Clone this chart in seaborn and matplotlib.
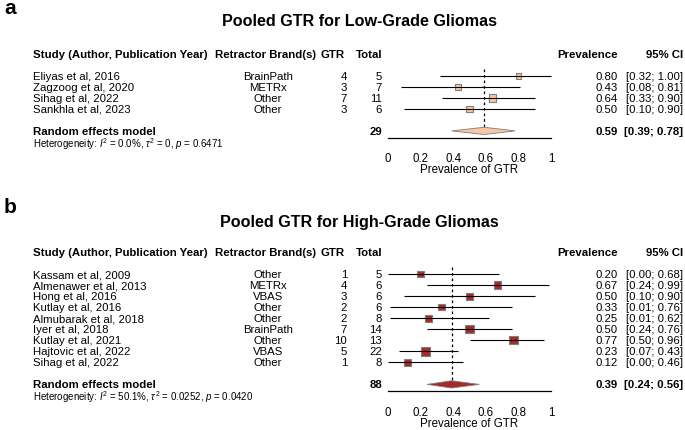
import numpy as np
import pandas as pd
import seaborn as sns
import matplotlib.pyplot as plt
from matplotlib.transforms import blended_transform_factory

# panel a - low grade gliomas
low_studies = ["Eliyas et al, 2016", "Zagzoog et al, 2020", "Sihag et al, 2022", "Sankhla et al, 2023"]
low_brands = ["BrainPath", "METRx", "Other", "Other"]
low_gtr = [4, 3, 7, 3]
low_total = [5, 7, 11, 6]
low_prev = [0.80, 0.43, 0.64, 0.50]
low_lo = [0.32, 0.08, 0.33, 0.10]
low_hi = [1.00, 0.81, 0.90, 0.90]
low_weight = [18, 23, 34, 25]
low_pooled = [0.59, 0.39, 0.78]
low_n = 29
low_het = r"Heterogeneity: $\mathit{I}^2$ = 0.0%, $\tau^2$ = 0, $\mathit{p}$ = 0.6471"

# panel b - high grade gliomas
high_studies = ["Kassam et al, 2009", "Almenawer et al, 2013", "Hong et al, 2016", "Kutlay et al, 2016",
                "Almubarak et al, 2018", "Iyer et al, 2018", "Kutlay et al, 2021", "Hajtovic et al, 2022",
                "Sihag et al, 2022"]
high_brands = ["Other", "METRx", "VBAS", "Other", "Other", "BrainPath", "Other", "VBAS", "Other"]
high_gtr = [1, 4, 3, 2, 2, 7, 10, 5, 1]
high_total = [5, 6, 6, 6, 8, 14, 13, 22, 8]
high_prev = [0.20, 0.67, 0.50, 0.33, 0.25, 0.50, 0.77, 0.23, 0.12]
high_lo = [0.00, 0.24, 0.10, 0.01, 0.01, 0.24, 0.50, 0.07, 0.00]
high_hi = [0.68, 0.99, 0.90, 0.76, 0.62, 0.76, 0.96, 0.43, 0.46]
high_weight = [8.2, 10.3, 10.3, 9.1, 9.1, 14.6, 13.5, 15.8, 9.1]
high_pooled = [0.39, 0.24, 0.56]
high_n = 88
high_het = r"Heterogeneity: $\mathit{I}^2$ = 50.1%, $\tau^2$ = 0.0252, $\mathit{p}$ = 0.0420"

tick_vals = [0, 0.2, 0.4, 0.6, 0.8, 1]
tick_labels = ["0", "0.2", "0.4", "0.6", "0.8", "1"]

W, H = 685, 431
FS = 8.2


def fx(px):
    return px / W


def fy(py):
    return 1 - py / H


def draw_panel(fig, letter, title, letter_y, title_y, ax_top, ax_bot, studies, brands, gtr, total, prev, lo, hi,
               weight, pooled, n, het, color, size_range):
    k = len(studies)
    ax = fig.add_axes([fx(388), fy(ax_bot), fx(551) - fx(388), (ax_bot - ax_top) / H])
    ax.set_xlim(0, 1)
    ax.set_ylim(k + 1.6, -0.6)

    df = pd.DataFrame({"row": np.arange(k), "prev": prev, "lo": lo, "hi": hi, "weight": weight})
    sns.scatterplot(data=df, x="prev", y="row", size="weight", sizes=size_range, marker="s", color=color,
                    edgecolor="#7f7f7f", linewidth=0.8, legend=False, ax=ax, zorder=2, clip_on=False)
    ax.hlines(df["row"], df["lo"], df["hi"], color="black", lw=0.8, zorder=3, clip_on=False)

    est, plo, phi = pooled
    ys = k + 1
    h = 0.33
    ax.fill([plo, est, phi, est], [ys, ys - h, ys, ys + h], facecolor=color, edgecolor="#7f7f7f",
            lw=0.6, zorder=2, clip_on=False)
    ax.vlines(est, -0.6, ys - h, color="black", lw=0.9, linestyles=(0, (2.2, 2.2)), zorder=1)

    sns.despine(ax=ax, left=True)
    ax.spines["bottom"].set_bounds(0, 1)
    ax.spines["bottom"].set_linewidth(0.9)
    ax.set_yticks([])
    ax.set_xticks(tick_vals)
    ax.set_xticklabels(tick_labels)
    ax.tick_params(axis="x", length=4, width=0.9, pad=6.5, labelsize=8.3, colors="black")
    ax.set_xlabel("Prevalence of GTR", fontsize=8.3, labelpad=-0.5, color="black")
    ax.set_ylabel("")
    ax.patch.set_alpha(0)

    tr = blended_transform_factory(fig.transFigure, ax.transData)
    hdr = dict(fontsize=FS, fontweight="bold", va="center", transform=tr)
    ax.text(fx(33), -2, "Study (Author, Publication Year)", ha="left", **hdr)
    ax.text(fx(266), -2, "Retractor Brand(s)", ha="center", **hdr)
    ax.text(fx(345), -2, "GTR", ha="right", **hdr)
    ax.text(fx(382), -2, "Total", ha="right", **hdr)
    ax.text(fx(618), -2, "Prevalence", ha="right", **hdr)
    ax.text(fx(683), -2, "95% CI", ha="right", **hdr)

    body = dict(fontsize=FS, va="center", transform=tr)
    for i in range(k):
        ax.text(fx(33), i, studies[i], ha="left", **body)
        ax.text(fx(268), i, brands[i], ha="center", **body)
        ax.text(fx(347), i, str(gtr[i]), ha="right", **body)
        ax.text(fx(382), i, str(total[i]), ha="right", **body)
        ax.text(fx(618), i, f"{prev[i]:.2f}", ha="right", **body)
        ax.text(fx(683), i, f"[{lo[i]:.2f}; {hi[i]:.2f}]", ha="right", **body)

    ax.text(fx(33), ys, "Random effects model", ha="left", fontweight="bold", **body)
    ax.text(fx(382), ys, str(n), ha="right", fontweight="bold", **body)
    ax.text(fx(618), ys, f"{est:.2f}", ha="right", fontweight="bold", **body)
    ax.text(fx(683), ys, f"[{plo:.2f}; {phi:.2f}]", ha="right", fontweight="bold", **body)
    ax.text(fx(33), ys + 1.1, het, ha="left", fontsize=7, va="center", transform=tr)

    fig.text(fx(359), fy(title_y), title, ha="center", va="center", fontsize=11.6, fontweight="bold")
    fig.text(fx(4), fy(letter_y), letter, ha="left", va="center", fontsize=15, fontweight="bold")


def main():
    sns.set_theme(style="white", context="paper")
    plt.rcParams["font.family"] = ["Liberation Sans", "DejaVu Sans"]
    plt.rcParams["mathtext.fontset"] = "custom"
    plt.rcParams["mathtext.rm"] = "Liberation Sans"
    plt.rcParams["mathtext.it"] = "Liberation Sans:italic"
    plt.rcParams["mathtext.bf"] = "Liberation Sans:bold"
    plt.rcParams["text.color"] = "black"
    plt.rcParams["xtick.color"] = "black"
    plt.rcParams["axes.labelcolor"] = "black"
    plt.rcParams["axes.edgecolor"] = "black"

    fig = plt.figure(figsize=(W / 100, H / 100), dpi=100)
    fig.patch.set_facecolor("white")

    draw_panel(fig, "a", "Pooled GTR for Low-Grade Gliomas", 9, 22, 70.2, 138.5,
               low_studies, low_brands, low_gtr, low_total, low_prev, low_lo, low_hi, low_weight,
               low_pooled, low_n, low_het, "#F7C7A3", (16, 30))
    draw_panel(fig, "b", "Pooled GTR for High-Grade Gliomas", 208, 223, 268.4, 392,
               high_studies, high_brands, high_gtr, high_total, high_prev, high_lo, high_hi, high_weight,
               high_pooled, high_n, high_het, "#A52A2A", (21, 40))

    fig.savefig("out.png", dpi=100)


if __name__ == "__main__":
    main()
